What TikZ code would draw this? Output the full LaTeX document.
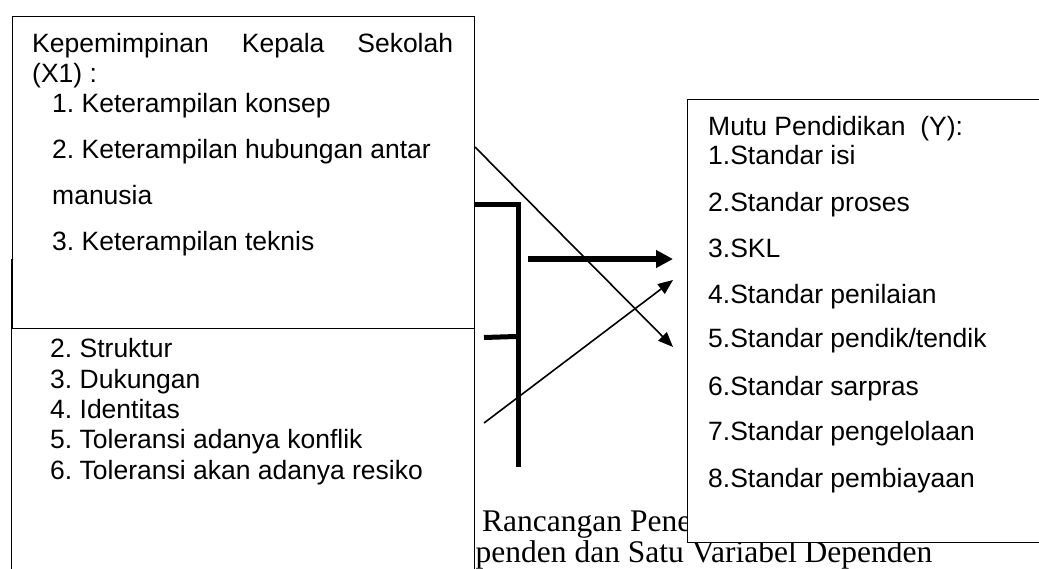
\documentclass[tikz,border=0pt]{standalone}
\usepackage{fontspec}
\setmainfont{Liberation Serif}
\newfontfamily\boxfont{Liberation Sans}
\usetikzlibrary{arrows.meta}

\begin{document}
\frenchspacing
\begin{tikzpicture}[x=1pt,y=-1pt,
  panel/.style={draw=black, fill=white, line width=1.3pt, rectangle,
                inner sep=0pt, anchor=north west},
  item/.style={anchor=base west, inner sep=0pt,
               font=\boxfont\fontsize{26.5}{30}\selectfont},
  caption/.style={anchor=base west, inner sep=0pt,
                  font=\rmfamily\fontsize{31.5}{36}\selectfont},
  thinarrow/.style={line width=1.6pt, -{Triangle[length=15pt,width=12pt]}},
  thickarrow/.style={line width=5.5pt, -{Triangle[length=17pt,width=17pt]}},
  heavy/.style={line width=5pt}
]
\useasboundingbox (0,0) rectangle (1039,568);
\fill[white] (0,0) rectangle (1039,568);
\clip (0,0) rectangle (1039,568);

% caption lines (partly covered by the boxes)
\node[caption, text depth=0pt] (cap1) at (482,531.5) {Rancangan Pene};
\node[caption] (cap2) at (475.5,562.5) {penden dan Satu Variabel Dependen};

% boxes
\node[panel, minimum width=463pt, minimum height=345pt] (lowbox) at (11,259) {};
\node[panel, minimum width=462pt, minimum height=312pt] (upbox) at (12,16) {};
\node[panel, minimum width=360pt, minimum height=443pt] (ybox) at (687,99) {};

% leadership variable (X1)
\node[item] (x1a) at (32,52) {\hbox to 421pt{Kepemimpinan\hfill Kepala\hfill Sekolah}};
\node[item] (x1b) at (32,82) {(X1) :};
\node[item] (x1i1) at (52,112) {1. Keterampilan konsep};
\node[item] (x1i2) at (52,158) {2. Keterampilan hubungan antar};
\node[item] (x1i2b) at (52,204) {manusia};
\node[item] (x1i3) at (52,250) {3. Keterampilan teknis};

% second independent variable
\node[item] (x2i2) at (50,357) {2. Struktur};
\node[item] (x2i3) at (50,388) {3. Dukungan};
\node[item] (x2i4) at (50,418) {4. Identitas};
\node[item] (x2i5) at (50,448) {5. Toleransi adanya konflik};
\node[item] (x2i6) at (50,479) {6. Toleransi akan adanya resiko};

% dependent variable (Y)
\node[item] (yt) at (708,135) {Mutu Pendidikan\ \ (Y):};
\node[item] (y1) at (708,164) {1.Standar isi};
\node[item] (y2) at (708,211.5) {2.Standar proses};
\node[item] (y3) at (708,257) {3.SKL};
\node[item] (y4) at (708,303) {4.Standar penilaian};
\node[item] (y5) at (708,347.5) {5.Standar pendik/tendik};
\node[item] (y6) at (708,395) {6.Standar sarpras};
\node[item] (y7) at (708,440.5) {7.Standar pengelolaan};
\node[item] (y8) at (708,487) {8.Standar pembiayaan};

% connector end points
\coordinate (d1s) at (475,147);
\coordinate (d1e) at (673,347);
\coordinate (br1) at (474,204);
\coordinate (br2) at (518,204);
\coordinate (br3) at (518,467);
\coordinate (stubs) at (484,337.5);
\coordinate (stube) at (516,336.5);
\coordinate (ths) at (528,259);
\coordinate (the) at (673,259);
\coordinate (d2s) at (484,423);
\coordinate (d2e) at (673,280);

% connectors
\draw[thinarrow] (d1s) -- (d1e);
\draw[heavy] (br1) -- (br2) -- (br3);
\draw[heavy] (stubs) -- (stube);
\draw[thickarrow] (ths) -- (the);
\draw[thinarrow] (d2s) -- (d2e);
\end{tikzpicture}
\end{document}
